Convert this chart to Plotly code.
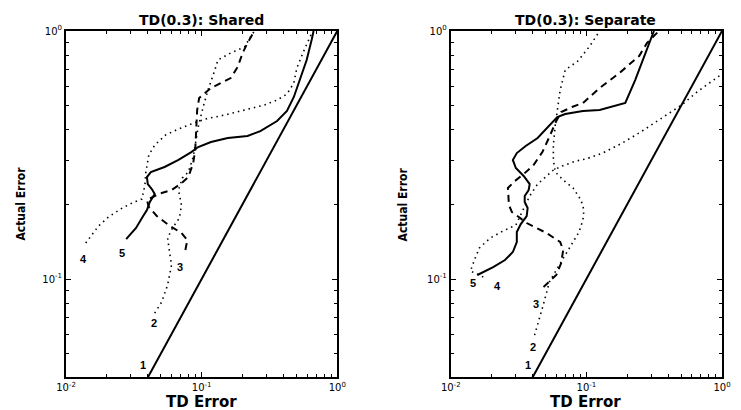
import math
import plotly.graph_objects as go
from plotly.subplots import make_subplots

# ---------------- data ----------------
diag_x = [0.01, 1.0]
diag_y = [0.01, 1.0]

# Left panel: TD(0.3) Shared
L2_x = [0.0451, 0.0508, 0.0561, 0.0600, 0.0580, 0.0561, 0.0610, 0.0686, 0.0710, 0.0675, 0.0721, 0.0798,
        0.0867, 0.0912, 0.0943, 0.1026, 0.1114, 0.1253, 0.1318, 0.1638, 0.207, 0.229, 0.245]
L2_y = [0.0729, 0.0808, 0.0946, 0.1139, 0.1285, 0.1463, 0.1606, 0.1762, 0.1988, 0.2285, 0.2554, 0.270,
        0.3105, 0.3635, 0.410, 0.4937, 0.578, 0.6964, 0.764, 0.815, 0.862, 0.946, 1.0]

L3_x = [0.0759, 0.0784, 0.0710, 0.0571, 0.0467, 0.0408, 0.0395, 0.0483, 0.0600, 0.0698, 0.0798, 0.0867,
        0.0897, 0.0912, 0.0927, 0.0959, 0.1172, 0.1638, 0.1843, 0.2005, 0.218, 0.245]
L3_y = [0.131, 0.1437, 0.1533, 0.165, 0.1795, 0.195, 0.2083, 0.2203, 0.2285, 0.2415, 0.2578, 0.2937,
        0.3313, 0.399, 0.480, 0.537, 0.589, 0.646, 0.716, 0.815, 0.895, 1.0]

L4_x = [0.01398, 0.01738, 0.02055, 0.02597, 0.03176, 0.0363, 0.0382, 0.0388, 0.0408, 0.0451, 0.0543, 0.0675,
        0.0839, 0.106, 0.148, 0.207, 0.2895, 0.360, 0.4256, 0.4786, 0.5035, 0.566, 0.626, 0.658]
L4_y = [0.1397, 0.1636, 0.1778, 0.1933, 0.2044, 0.2102, 0.2393, 0.270, 0.3162, 0.3467, 0.381, 0.4027,
        0.4217, 0.4416, 0.4584, 0.480, 0.503, 0.527, 0.557, 0.617, 0.709, 0.830, 0.937, 1.0]

L5_x = [0.02777, 0.03284, 0.0363, 0.0395, 0.0415, 0.0451, 0.0429, 0.0401, 0.0395, 0.0422, 0.0533, 0.0675,
        0.0839, 0.0943, 0.1172, 0.1559, 0.218, 0.2709, 0.360, 0.4256, 0.4786, 0.529, 0.595, 0.647, 0.669]
L5_y = [0.1449, 0.1606, 0.1762, 0.1898, 0.2044, 0.2203, 0.2306, 0.2415, 0.2578, 0.270, 0.283, 0.302,
        0.325, 0.3405, 0.3567, 0.3702, 0.3772, 0.395, 0.4335, 0.4757, 0.542, 0.634, 0.764, 0.920, 1.0]

# Right panel: TD(0.3) Separate
R2_x = [0.0415, 0.0444, 0.0474, 0.0508, 0.0533, 0.0600, 0.0664, 0.0734, 0.0798, 0.0882, 0.0943, 0.0959,
        0.0912, 0.0798, 0.0675, 0.0590, 0.0571, 0.0571, 0.0590, 0.0621, 0.0641, 0.0698, 0.0867, 0.106, 0.1253]
R2_y = [0.0594, 0.0671, 0.0764, 0.0878, 0.0972, 0.1087, 0.1193, 0.131, 0.141, 0.1547, 0.1729, 0.1898,
        0.2083, 0.2328, 0.2506, 0.270, 0.302, 0.3467, 0.4178, 0.503, 0.578, 0.6964, 0.757, 0.870, 1.0]

R3_x = [0.0483, 0.0543, 0.0600, 0.0652, 0.0675, 0.0641, 0.0508, 0.0429, 0.0363, 0.03176, 0.02825, 0.02685,
        0.0264, 0.0264, 0.0297, 0.0345, 0.0408, 0.0474, 0.0533, 0.0600, 0.0652, 0.0784, 0.0943, 0.1253,
        0.1752, 0.245, 0.280, 0.3423]
R3_y = [0.0928, 0.0982, 0.1038, 0.116, 0.131, 0.141, 0.1533, 0.1606, 0.1682, 0.1778, 0.1862, 0.1988,
        0.2182, 0.2328, 0.2484, 0.265, 0.2882, 0.325, 0.3737, 0.4335, 0.4713, 0.4937, 0.5126, 0.589,
        0.677, 0.793, 0.895, 1.0]

R4_x = [0.01738, 0.01398, 0.01494, 0.01626, 0.01954, 0.0243, 0.0302, 0.0340, 0.0382, 0.0437, 0.0508, 0.0571,
        0.0664, 0.0839, 0.0992, 0.1318, 0.1843, 0.2577, 0.360, 0.5035, 0.669, 0.935, 1.0]
R4_y = [0.1019, 0.1077, 0.1193, 0.1334, 0.1463, 0.1562, 0.165, 0.1898, 0.2162, 0.2415, 0.2603, 0.275,
        0.2856, 0.299, 0.3048, 0.322, 0.3534, 0.395, 0.4458, 0.503, 0.573, 0.658, 0.671]

R5_x = [0.01572, 0.01738, 0.02055, 0.02512, 0.0287, 0.0307, 0.0307, 0.03284, 0.0363, 0.0369, 0.0351, 0.0351,
        0.03754, 0.0382, 0.0345, 0.0302, 0.0287, 0.0307, 0.0357, 0.0437, 0.0525, 0.0610, 0.0698, 0.0943,
        0.1253, 0.1638, 0.1936, 0.229, 0.2709, 0.3148]
R5_y = [0.1038, 0.1067, 0.1117, 0.1193, 0.1285, 0.141, 0.1547, 0.1666, 0.1795, 0.1933, 0.2044, 0.2162,
        0.2285, 0.2415, 0.2603, 0.2803, 0.302, 0.322, 0.3438, 0.3702, 0.414, 0.4499, 0.4627, 0.4757,
        0.480, 0.498, 0.5126, 0.634, 0.800, 1.0]

curve_labels = ["1", "2", "3", "4", "5"]
left_label_xy = [(0.0369, 0.045), (0.0444, 0.0665), (0.0698, 0.1117), (0.0135, 0.1204), (0.026, 0.127)]
right_label_xy = [(0.0369, 0.045), (0.0402, 0.0532), (0.0422, 0.0794), (0.022, 0.0937), (0.0147, 0.0964)]

panel_titles = ["TD(0.3): Shared", "TD(0.3): Separate"]
x_title = "TD Error"
y_title = "Actual Error"
tick_vals = [0.01, 0.1, 1]
tick_text = ["10<sup>-2</sup>", "10<sup>-1</sup>", "10<sup>0</sup>"]
minor_vals = [0.02, 0.03, 0.04, 0.05, 0.06, 0.07, 0.08, 0.09, 0.2, 0.3, 0.4, 0.5, 0.6, 0.7, 0.8, 0.9]

# ---------------- figure ----------------
fig = make_subplots(rows=1, cols=2, horizontal_spacing=0.173)

SOLID = dict(color="black", width=2)
DASH = dict(color="black", width=2, dash="7px,5px")
DOT = dict(color="black", width=1.6, dash="1.5px,4px")

panels = [
    (1, [(diag_x, diag_y, SOLID), (L2_x, L2_y, DOT), (L3_x, L3_y, DASH), (L4_x, L4_y, DOT), (L5_x, L5_y, SOLID)]),
    (2, [(diag_x, diag_y, SOLID), (R2_x, R2_y, DOT), (R3_x, R3_y, DASH), (R4_x, R4_y, DOT), (R5_x, R5_y, SOLID)]),
]
for col, traces in panels:
    for xs, ys, ln in traces:
        fig.add_trace(go.Scatter(x=xs, y=ys, mode="lines", line=ln, showlegend=False,
                                 hoverinfo="skip"), row=1, col=col)

FONT = "Liberation Sans, Arial, Helvetica, sans-serif"
WIDE = "DejaVu Sans, Liberation Sans, sans-serif"
axis_common = dict(
    type="log", showgrid=False, zeroline=False, showline=True, linecolor="black", linewidth=2,
    mirror="allticks", ticks="inside", ticklen=5, tickwidth=1, tickcolor="black",
    tickvals=tick_vals, ticktext=tick_text,
    tickfont=dict(family=WIDE, size=10, color="black"),
    minor=dict(ticks="inside", ticklen=3, tickwidth=1, tickcolor="black", showgrid=False,
               tickvals=minor_vals),
)
for i in (1, 2):
    fig.update_xaxes(range=[-2, 0], row=1, col=i, **axis_common)
    fig.update_yaxes(range=[-1.395, 0], row=1, col=i, **axis_common)

anns = []
for ref, labs in (("", left_label_xy), ("2", right_label_xy)):
    for txt, (lx, ly) in zip(curve_labels, labs):
        anns.append(dict(x=math.log10(lx), y=math.log10(ly), xref="x" + ref, yref="y" + ref,
                         text="<b>%s</b>" % txt, showarrow=False, xanchor="center", yanchor="middle",
                         font=dict(family=FONT, size=11, color="black")))

centers = [0.206, 0.7925]
ycent = [-0.0692, 0.5143]
for k in range(2):
    anns.append(dict(x=centers[k], y=1.032, xref="paper", yref="paper", text="<b>%s</b>" % panel_titles[k],
                     showarrow=False, xanchor="center", yanchor="middle",
                     font=dict(family=WIDE, size=14, color="black")))
    anns.append(dict(x=centers[k], y=-0.0723, xref="paper", yref="paper", text="<b>%s</b>" % x_title,
                     showarrow=False, xanchor="center", yanchor="middle",
                     font=dict(family=WIDE, size=15, color="black")))
    anns.append(dict(x=ycent[k], y=0.5, xref="paper", yref="paper", text="<b>%s</b>" % y_title,
                     textangle=-90, showarrow=False, xanchor="center", yanchor="middle",
                     font=dict(family="Liberation Sans Narrow, DejaVu Sans Condensed, Arial Narrow, sans-serif",
                               size=12, color="black")))

# page body has an 8px default margin, so the figure is drawn 8px smaller and offset
fig.update_layout(
    width=733, height=402,
    margin=dict(l=58, r=10, t=23, b=33),
    paper_bgcolor="white", plot_bgcolor="white",
    annotations=anns,
    font=dict(family=FONT, color="black"),
)
fig.layout.xaxis.domain = [0, 0.4135]
fig.layout.xaxis2.domain = [0.5865, 1.0]

fig.write_html("out.html")
